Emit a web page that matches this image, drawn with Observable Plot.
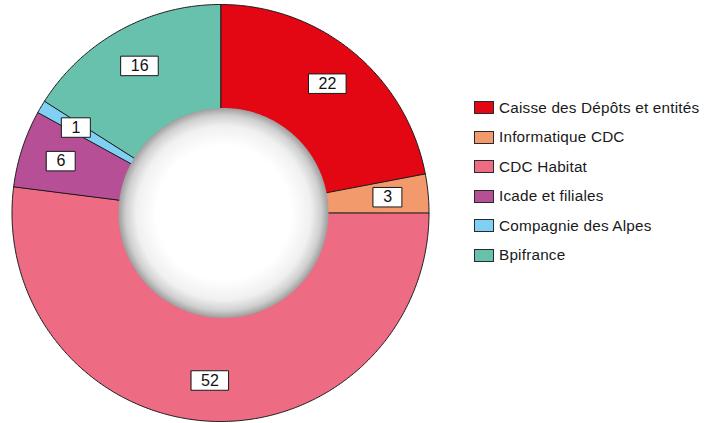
<!DOCTYPE html>
<html>
<head>
<meta charset="utf-8">
<script src="https://cdn.jsdelivr.net/npm/d3@7"></script>
<script src="https://cdn.jsdelivr.net/npm/@observablehq/plot@0.6"></script>
<style>
  body { margin: 0; background: #fff; font-family: "Liberation Sans", Arial, Helvetica, sans-serif; }
  #wrap { position: relative; width: 704px; height: 423px; overflow: hidden; }
  #legend { position: absolute; left: 474px; top: 92.75px; }
  .row { display: flex; align-items: center; height: 29.5px; white-space: nowrap; }
  .sw { width: 20px; height: 13px; box-sizing: border-box; border: 1px solid #2a2a2a; margin-right: 5px; flex: none; }
  .lab { font-size: 15.3px; letter-spacing: 0.2px; color: #1a1a1a; }
</style>
</head>
<body>
<div id="wrap"><div id="legend"></div></div>
<script>
// ---- data ----
const categories = ["Caisse des Dépôts et entités", "Informatique CDC", "CDC Habitat", "Icade et filiales", "Compagnie des Alpes", "Bpifrance"];
const values = [22, 3, 52, 6, 1, 16];
const colors = ["#e30613", "#f39a6c", "#ee6b84", "#b74f97", "#80d0f4", "#68c1ad"];

// ---- layout constants (pixels) ----
const W = 704, H = 423;
const R = 208.5;            // outer radius
const cx = 220, cy = 212.5; // pie centre
const holeR = 105, holeDx = 3;
const labelR = 0.805;       // fraction of outer radius
const labelFont = 16;

// ---- geometry in unit space ----
const total = d3.sum(values);
let acc = 0;
const slices = categories.map((name, i) => {
  const a0 = acc / total * 2 * Math.PI;
  acc += values[i];
  const a1 = acc / total * 2 * Math.PI;
  return {name, value: values[i], a0, a1};
});

function wedge(s) {
  const pts = [[0, 0]];
  const n = Math.max(2, Math.ceil((s.a1 - s.a0) / (Math.PI / 360)));
  for (let k = 0; k <= n; k++) {
    const a = s.a0 + (s.a1 - s.a0) * k / n;
    pts.push([Math.sin(a), Math.cos(a)]);
  }
  pts.push([0, 0]);
  return {type: "Feature", properties: {name: s.name}, geometry: {type: "Polygon", coordinates: [pts]}};
}
const wedges = slices.map(wedge);

function circle(x0, y0, r) {
  const pts = [];
  for (let k = 0; k <= 360; k++) {
    const a = k / 360 * 2 * Math.PI;
    pts.push([x0 + r * Math.sin(a), y0 + r * Math.cos(a)]);
  }
  return {type: "Feature", properties: {}, geometry: {type: "Polygon", coordinates: [pts]}};
}
const hole = circle(holeDx / R, 0, holeR / R);

const labels = slices.map(s => {
  const m = (s.a0 + s.a1) / 2;
  const x = labelR * Math.sin(m), y = labelR * Math.cos(m);
  const text = String(s.value);
  const bw = (text.length * 8.6 + 20) / R, bh = 19.5 / R;
  const box = {type: "Feature", properties: {}, geometry: {type: "Polygon", coordinates: [[
    [x - bw / 2, y - bh / 2], [x + bw / 2, y - bh / 2], [x + bw / 2, y + bh / 2], [x - bw / 2, y + bh / 2], [x - bw / 2, y - bh / 2]
  ]]}};
  return {x, y, text, box};
});

const defs = () => {
  const g = d3.create("svg:defs");
  const rg = g.append("radialGradient").attr("id", "holeGrad").attr("cx", "50%").attr("cy", "50%").attr("r", "50%");
  [[0, "#ffffff"], [0.64, "#ffffff"], [0.83, "#f0f0f0"], [0.93, "#cfcfcf"], [1, "#9e9e9e"]]
    .forEach(([o, c]) => rg.append("stop").attr("offset", o).attr("stop-color", c));
  return g.node();
};

const chart = Plot.plot({
  width: W,
  height: H,
  marginLeft: cx - R,
  marginRight: W - (cx + R),
  marginTop: cy - R,
  marginBottom: H - (cy + R),
  projection: {type: "reflect-y", domain: {type: "MultiPoint", coordinates: [[-1, -1], [1, 1]]}},
  color: {domain: categories, range: colors},
  style: {fontFamily: "Liberation Sans, Arial, Helvetica, sans-serif", background: "transparent"},
  marks: [
    defs,
    Plot.geo(wedges, {fill: d => d.properties.name, stroke: "#1a1a1a", strokeWidth: 1}),
    Plot.geo([hole], {fill: "url(#holeGrad)"}),
    Plot.geo(labels.map(d => d.box), {fill: "white", stroke: "#1a1a1a", strokeWidth: 1}),
    Plot.text(labels, {x: "x", y: "y", text: "text", fontSize: labelFont, fill: "#111", textAnchor: "middle"})
  ]
});
document.getElementById("wrap").prepend(chart);

// ---- legend from the plot's color scale ----
const color = chart.scale("color");
const legend = d3.select("#legend");
color.domain.forEach((name, i) => {
  const row = legend.append("div").attr("class", "row");
  row.append("div").attr("class", "sw").style("background", color.range[i]);
  row.append("span").attr("class", "lab").text(name);
});
</script>
</body>
</html>
